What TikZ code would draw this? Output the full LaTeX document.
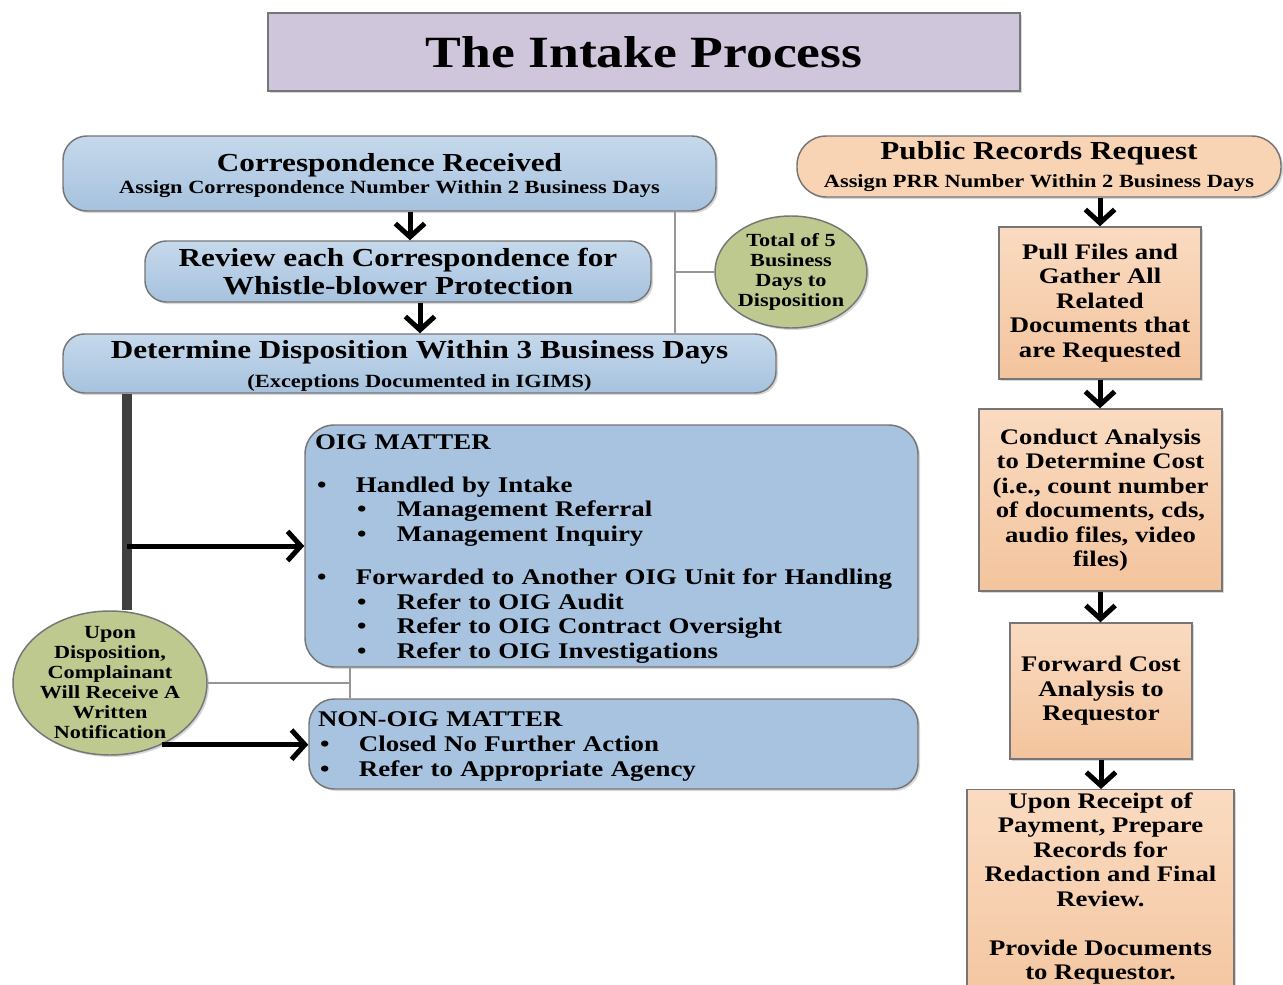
\documentclass[tikz,border=0pt]{standalone}
\usepackage{fontspec}
\setmainfont{Liberation Serif}[FakeStretch=1.2]
\usetikzlibrary{shapes.geometric,arrows.meta,shadows}

\definecolor{lav}{RGB}{207,198,220}
\definecolor{edge}{RGB}{118,118,118}
\definecolor{blueTop}{RGB}{198,217,236}
\definecolor{blueBot}{RGB}{166,194,222}
\definecolor{blueFlat}{RGB}{167,195,223}
\definecolor{peachFlat}{RGB}{248,212,180}
\definecolor{peachTop}{RGB}{250,219,193}
\definecolor{peachBot}{RGB}{243,196,157}
\definecolor{olive}{RGB}{189,201,143}
\definecolor{linkgray}{RGB}{150,150,150}
\definecolor{bargray}{RGB}{64,64,64}

\newcommand\fsz[2]{\fontsize{#1pt}{#2pt}\selectfont\bfseries}
% bullet rows: first level and second level
\newcommand\bitem[1]{\makebox[30.75pt][l]{\hspace{1.5pt}\textbullet}#1}
\newcommand\sitem[1]{\hspace{31.5pt}\makebox[30pt][l]{\textbullet}#1}

\begin{document}
\begin{tikzpicture}[x=0.75pt,y=-0.75pt,
  box/.style={draw=edge, line width=1.1pt, inner sep=0pt, align=center,
    drop shadow={shadow xshift=1.5pt, shadow yshift=-1.5pt, opacity=0.3}},
  bluegrad/.style={top color=blueTop, bottom color=blueBot},
  peachgrad/.style={top color=peachTop, bottom color=peachBot},
  oval/.style={ellipse, draw=edge, line width=1.1pt, fill=olive, inner sep=0pt,
    drop shadow={shadow xshift=1.5pt, shadow yshift=-1.5pt, opacity=0.3}},
  head/.style={font=\fsz{19.5}{21}},
  small/.style={font=\fsz{13.9}{15}, align=center},
  body/.style={font=\fsz{16.7}{18.4}},
  flow/.style={line width=3.75pt, -{Straight Barb[length=10pt,width=22pt]}},
  feed/.style={draw=linkgray, line width=1.5pt},
  bar/.style={draw=bargray, line width=7.5pt}]

\clip (0,0) rectangle (1283,985);
\fill[white] (0,0) rectangle (1283,985);

% title banner
\node[box, fill=lav, minimum width=752*0.75pt, minimum height=78*0.75pt,
  font=\fsz{33.5}{36}] (title) at (644,52) {The Intake Process};

% correspondence track
\node[box, bluegrad, head, rounded corners=18pt, minimum width=653*0.75pt,
  minimum height=75*0.75pt] (corr) at (389.5,173.5)
  {\rule{0pt}{17pt}Correspondence Received\\[-4.3pt]{\fsz{14}{16}Assign Correspondence Number Within 2 Business Days}};
\node[box, bluegrad, head, rounded corners=16pt, minimum width=506*0.75pt,
  minimum height=61*0.75pt] (review) at (398,271.5)
  {Review each Correspondence for\\Whistle-blower Protection};
\node[box, bluegrad, head, rounded corners=16pt, minimum width=713*0.75pt,
  minimum height=59*0.75pt] (det) at (419.5,363.5)
  {\rule{0pt}{17pt}Determine Disposition Within 3 Business Days\\[1pt]{\fsz{14}{16}(Exceptions Documented in IGIMS)}};

\node[oval, minimum width=152*0.75pt, minimum height=112*0.75pt] (total) at (791,272) {};
\node[small] (totaltext) at (791,271.5) {Total of 5\\Business\\Days to\\Disposition};

\node[box, fill=blueFlat, rounded corners=22pt, text width=593*0.75pt,
  inner xsep=7.5pt, align=left, minimum height=242*0.75pt, font=\fsz{16.8}{18.4}]
  (oig) at (611.5,546)
  {\rule{0pt}{15.4pt}OIG MATTER\\[13.9pt]
   \bitem{Handled by Intake}\\
   \sitem{Management Referral}\\
   \sitem{Management Inquiry}\\[13.9pt]
   \bitem{Forwarded to Another OIG Unit for Handling}\\
   \sitem{Refer to OIG Audit}\\
   \sitem{Refer to OIG Contract Oversight}\\
   \sitem{Refer to OIG Investigations}};

\node[box, fill=blueFlat, rounded corners=19pt, text width=591*0.75pt,
  inner xsep=6.75pt, align=left, minimum height=90*0.75pt, font=\fsz{16.8}{18.75}]
  (nonoig) at (613.5,744)
  {\rule{0pt}{15pt}NON-OIG MATTER\\
   \bitem{Closed No Further Action}\\
   \bitem{Refer to Appropriate Agency}};

\node[oval, minimum width=194*0.75pt, minimum height=144*0.75pt] (upon) at (110,683) {};
\node[small] (upontext) at (110,683)
  {Upon\\Disposition,\\Complainant\\Will Receive A\\Written\\Notification};

% public records track
\node[box, fill=peachFlat, head, rounded corners=22pt, minimum width=484*0.75pt,
  minimum height=61*0.75pt] (prr) at (1039,166.5)
  {Public Records Request\\[0.2pt]{\fsz{14}{16}Assign PRR Number Within 2 Business Days}};
\node[box, peachgrad, body, minimum width=202*0.75pt, minimum height=152*0.75pt]
  (pull) at (1100,303)
  {Pull Files and\\Gather All\\Related\\Documents that\\are Requested};
\node[box, peachgrad, body, minimum width=243*0.75pt, minimum height=182*0.75pt]
  (conduct) at (1100.5,500)
  {Conduct Analysis\\to Determine Cost\\(i.e., count number\\of documents, cds,\\audio files, video\\files)};
\node[box, peachgrad, body, minimum width=182*0.75pt, minimum height=136*0.75pt]
  (forward) at (1101,691)
  {Forward Cost\\Analysis to\\Requestor};
\node[box, peachgrad, minimum width=267*0.75pt, minimum height=230*0.75pt,
  anchor=north] (receipt) at (1100.5,789) {};
\node[body, align=center] (receipttext) at (1100.5,888.5)
  {Upon Receipt of\\Payment, Prepare\\Records for\\Redaction and Final\\Review.\\[18.4pt]Provide Documents\\to Requestor.};

% guide points for connectors
\coordinate (c1) at (410,0);
\coordinate (c2) at (420,0);
\coordinate (tap) at (675,272);
\coordinate (spine) at (127,0);
\coordinate (link) at (350,683);

% thin grey brackets
\draw[feed] (corr.south -| tap) -- (det.north -| tap);
\draw[feed] (tap) -- (total.west);
\draw[feed] (upon.east) -- (link);
\draw[feed] (oig.south -| link) -- (nonoig.north -| link);

% dark spine from the disposition box
\draw[bar] (det.south -| spine) -- (spine |- upon.north);

% black flow arrows
\draw[flow] (corr.south -| c1) -- (review.north -| c1);
\draw[flow] (review.south -| c2) -- (det.north -| c2);
\draw[flow] (spine |- oig.west) -- (oig.west);
\draw[flow] (upon.-50) -- (upon.-50 -| nonoig.west);
\draw[flow] (prr.south -| pull.north) -- (pull.north);
\draw[flow] (pull.south) -- (pull.south |- conduct.north);
\draw[flow] (conduct.south) -- (conduct.south |- forward.north);
\draw[flow] (forward.south) -- (forward.south |- receipt.north);
\end{tikzpicture}
\end{document}
